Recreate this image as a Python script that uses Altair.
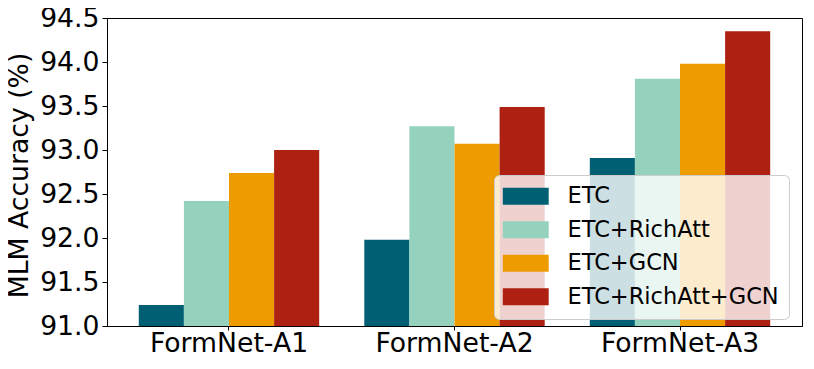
import altair as alt
import pandas as pd

models = ["FormNet-A1", "FormNet-A2", "FormNet-A3"]
series = ["ETC", "ETC+RichAtt", "ETC+GCN", "ETC+RichAtt+GCN"]
colors = ["#005f73", "#94d2bd", "#ee9b00", "#ae2012"]

etc = [91.24, 91.98, 92.91]
etc_richatt = [92.42, 93.27, 93.81]
etc_gcn = [92.74, 93.07, 93.98]
etc_richatt_gcn = [93.00, 93.49, 94.35]

y_ticks = [91.0, 91.5, 92.0, 92.5, 93.0, 93.5, 94.0, 94.5]
y_title = "MLM Accuracy (%)"

rows = []
for s, vals in zip(series, [etc, etc_richatt, etc_gcn, etc_richatt_gcn]):
    for m, v in zip(models, vals):
        rows.append({"model": m, "series": s, "acc": v})
df = pd.DataFrame(rows)

FONT = "DejaVu Sans"
FS = 26.67

chart = alt.Chart(df).mark_bar(strokeWidth=0).encode(
    x=alt.X("model:N", sort=models,
            scale=alt.Scale(paddingInner=0.2, paddingOuter=0.141),
            axis=alt.Axis(title=None, labelAngle=0, labelFontSize=FS, labelFont=FONT,
                          labelColor="black", tickColor="black", tickSize=4,
                          labelPadding=0, domainColor="black", grid=False)),
    xOffset=alt.XOffset("series:N", sort=series, scale=alt.Scale(paddingInner=0, paddingOuter=0)),
    y=alt.Y("acc:Q", scale=alt.Scale(domain=[91.0, 94.5], zero=False, nice=False),
            axis=alt.Axis(title=y_title, values=y_ticks, format=".1f", labelFontSize=FS,
                          labelFont=FONT, labelColor="black", tickColor="black", tickSize=5,
                          labelPadding=3, domainColor="black", grid=False,
                          titleFontSize=FS, titleFont=FONT, titleFontWeight="normal",
                          titleColor="black", titleX=-80, titleY=157,
                          titleBaseline="alphabetic", titleAlign="center", titleAngle=-90)),
    y2=alt.datum(91.0),
    color=alt.Color("series:N", sort=series,
                    scale=alt.Scale(domain=series, range=colors),
                    legend=alt.Legend(title=None, orient="none", legendX=387, legendY=157,
                                      labelFontSize=22.5, labelFont=FONT, labelColor="black",
                                      symbolType="M-2.7,-1H2.7V1H-2.7Z", symbolSize=289,
                                      symbolStrokeWidth=0, symbolOpacity=1,
                                      symbolOffset=10.5, labelOffset=30.5,
                                      rowPadding=10.5, padding=10,
                                      fillColor="rgba(255,255,255,0.8)", strokeColor="#cccccc",
                                      cornerRadius=5, labelLimit=400)),
).properties(
    width=695, height=308,
    autosize=alt.AutoSizeParams(type="none"),
    padding={"left": 99, "top": 10, "right": 4, "bottom": 40},
).configure_view(stroke="black", strokeWidth=1)

chart.save("out.html", embed_options={"renderer": "svg", "actions": False})
